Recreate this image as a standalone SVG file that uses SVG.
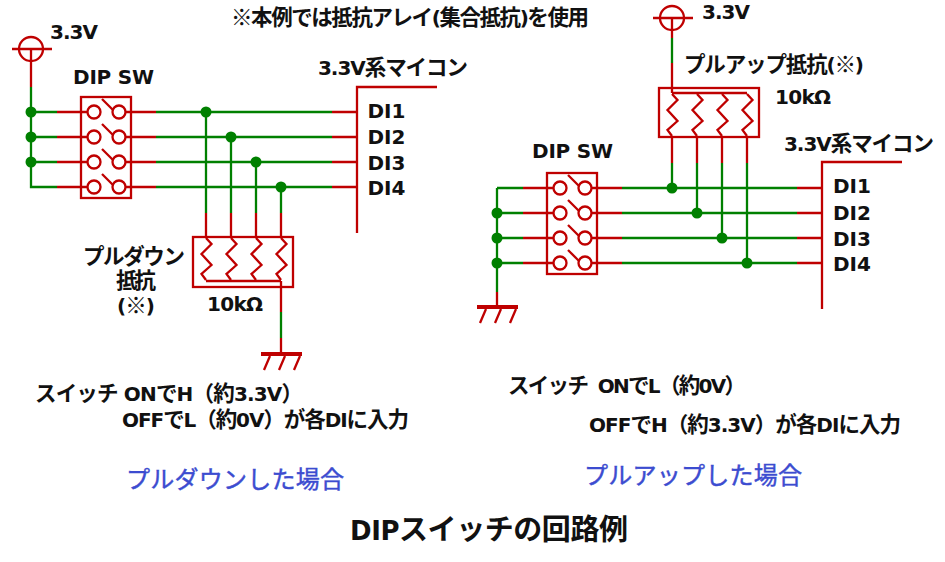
<svg xmlns="http://www.w3.org/2000/svg" width="945" height="562" viewBox="0 0 945 562">
<style>
.r{fill:none;stroke:#bf0000;stroke-width:2.3}
.g{fill:none;stroke:#008000;stroke-width:2.3}
.d{fill:#008000}
.gb{fill:#bf0000}
text{font-family:"DejaVu Sans","Noto Sans CJK JP",sans-serif;font-weight:bold;font-size:20px;fill:#111;white-space:pre}
.j{font-family:"Noto Sans CJK JP",sans-serif;font-size:21.500px}
.b{fill:#3c4cd0;stroke:#3c4cd0;stroke-width:.45;font-size:24px;font-family:"Noto Sans CJK JP",sans-serif;font-weight:normal}
.t{font-size:26px}
.t .j{font-size:29px}
</style>
<defs>
<g id="sw"><circle cx="13" cy="0" r="6.5" class="r"/><circle cx="38" cy="0" r="6.5" class="r"/><path d="M21-13L32-2" class="r"/></g>
<g id="res"><path d="M0 0l5.500 6-10 10 10 11-10 9 4.500 6" class="r"/></g>
<g id="gnd"><rect x="0" y="0" width="41" height="4" class="gb"/><path d="M9 4L3 18M24 4L18 18M39 4L33 18" class="r"/></g>
</defs>
<g id="connectors">
<path class="g" d="M31 87V187H57M31 112H57M31 137H57M31 162H57M156 112H332M156 137H332M156 162H332M156 187H332M206 112V213M231 137V213M256 162V213M281 187V213M281 312V338"/>
<path class="r" d="M31 49V87M57 112H87M57 137H87M57 162H87M57 187H87M126 112H156M126 137H156M126 162H156M126 187H156M332 112H357M332 137H357M332 162H357M332 187H357M206 213V237M231 213V237M256 213V237M281 213V237M281 281V312M281 338V352"/>
<path class="g" d="M672 38V63M497 188V292M497 188H523M497 213H523M497 238H523M497 263H523M622 188H797M622 213H797M622 238H797M622 263H797M672 163V188M697 163V213M722 163V238M747 163V263"/>
<path class="r" d="M672 18V38M672 63V93M672 137V163M697 137V163M722 137V163M747 137V163M523 188H553M523 213H553M523 238H553M523 263H553M591 188H622M591 213H622M591 238H622M591 263H622M797 188H822M797 213H822M797 238H822M797 263H822M497 292V306"/>
<g class="d"><circle cx="31" cy="112" r="5.500"/><circle cx="31" cy="137" r="5.500"/><circle cx="31" cy="162" r="5.500"/><circle cx="206" cy="112" r="5.500"/><circle cx="231" cy="137" r="5.500"/><circle cx="256" cy="162" r="5.500"/><circle cx="281" cy="187" r="5.500"/><circle cx="497" cy="213" r="5.500"/><circle cx="497" cy="238" r="5.500"/><circle cx="497" cy="263" r="5.500"/><circle cx="672" cy="188" r="5.500"/><circle cx="697" cy="213" r="5.500"/><circle cx="722" cy="238" r="5.500"/><circle cx="747" cy="263" r="5.500"/></g>
</g>
<g id="vcc-left"><circle cx="31" cy="49" r="12" class="r"/><path d="M12 49H52" class="r"/><text x="50" y="39" textLength="48">3.3V</text></g>
<g id="vcc-right"><circle cx="672" cy="18" r="12" class="r"/><path d="M653 18H693" class="r"/><text x="702" y="19" textLength="48">3.3V</text></g>
<g id="dipsw-left"><rect x="81" y="97" width="50" height="101" class="r"/><use href="#sw" x="81" y="112"/><use href="#sw" x="81" y="137"/><use href="#sw" x="81" y="162"/><use href="#sw" x="81" y="187"/><text x="73" y="84" textLength="81">DIP SW</text></g>
<g id="dipsw-right"><rect x="547" y="173" width="50" height="101" class="r"/><use href="#sw" x="547" y="188"/><use href="#sw" x="547" y="213"/><use href="#sw" x="547" y="238"/><use href="#sw" x="547" y="263"/><text x="532" y="158" textLength="81">DIP SW</text></g>
<g id="mcu-left"><path d="M437 87H357V233" class="r"/><text x="318" y="75" textLength="150">3.3V<tspan class="j">系マイコン</tspan></text><text x="367.500" y="118" textLength="38">DI1</text><text x="367.500" y="144" textLength="38">DI2</text><text x="367.500" y="170" textLength="38">DI3</text><text x="367.500" y="195" textLength="38">DI4</text></g>
<g id="mcu-right"><path d="M902 162H822V309" class="r"/><text x="784" y="151" textLength="150">3.3V<tspan class="j">系マイコン</tspan></text><text x="833" y="193" textLength="38">DI1</text><text x="833" y="220" textLength="38">DI2</text><text x="833" y="246" textLength="38">DI3</text><text x="833" y="271" textLength="38">DI4</text></g>
<g id="pulldown"><rect x="193" y="237" width="100" height="50" class="r"/><use href="#res" x="206" y="238"/><use href="#res" x="231" y="238"/><use href="#res" x="256" y="238"/><use href="#res" x="281" y="238"/><path d="M206 281H281" class="r"/><text x="83" y="264" textLength="102"><tspan class="j">プルダウン</tspan></text><text x="116" y="288" textLength="40"><tspan class="j">抵抗</tspan></text><text x="117" y="313" textLength="38">(<tspan class="j">※</tspan>)</text><text x="207" y="311" textLength="56">10kΩ</text></g>
<g id="pullup"><rect x="659" y="88" width="100" height="49" class="r"/><use href="#res" x="672" y="94"/><use href="#res" x="697" y="94"/><use href="#res" x="722" y="94"/><use href="#res" x="747" y="94"/><path d="M672 93H747" class="r"/><text x="684" y="72" textLength="180"><tspan class="j">プルアップ抵抗</tspan>(<tspan class="j">※</tspan>)</text><text x="775" y="104" textLength="56">10kΩ</text></g>
<use id="gnd-left" href="#gnd" x="261" y="352"/>
<use id="gnd-right" href="#gnd" x="477" y="305"/>
<g id="notes">
<text x="231" y="25" textLength="358"><tspan class="j">※本例では抵抗アレイ</tspan>(<tspan class="j">集合抵抗</tspan>)<tspan class="j">を使用</tspan></text>
<text x="35" y="401" textLength="268"><tspan class="j">スイッチ</tspan> ON<tspan class="j">で</tspan>H<tspan class="j">（約</tspan>3.3V<tspan class="j">）</tspan></text>
<text x="122" y="427" textLength="287">OFF<tspan class="j">で</tspan>L<tspan class="j">（約</tspan>0V<tspan class="j">）が各</tspan>DI<tspan class="j">に入力</tspan></text>
<text x="508" y="393" textLength="238"><tspan class="j">スイッチ</tspan>  ON<tspan class="j">で</tspan>L<tspan class="j">（約</tspan>0V<tspan class="j">）</tspan></text>
<text x="589" y="432" textLength="312">OFF<tspan class="j">で</tspan>H<tspan class="j">（約</tspan>3.3V<tspan class="j">）が各</tspan>DI<tspan class="j">に入力</tspan></text>
<text x="126" y="488" class="b" textLength="218">プルダウンした場合</text>
<text x="584" y="484" class="b" textLength="218">プルアップした場合</text>
<text x="350" y="540" class="t" textLength="278">DIP<tspan class="j">スイッチの回路例</tspan></text>
</g>
</svg>
